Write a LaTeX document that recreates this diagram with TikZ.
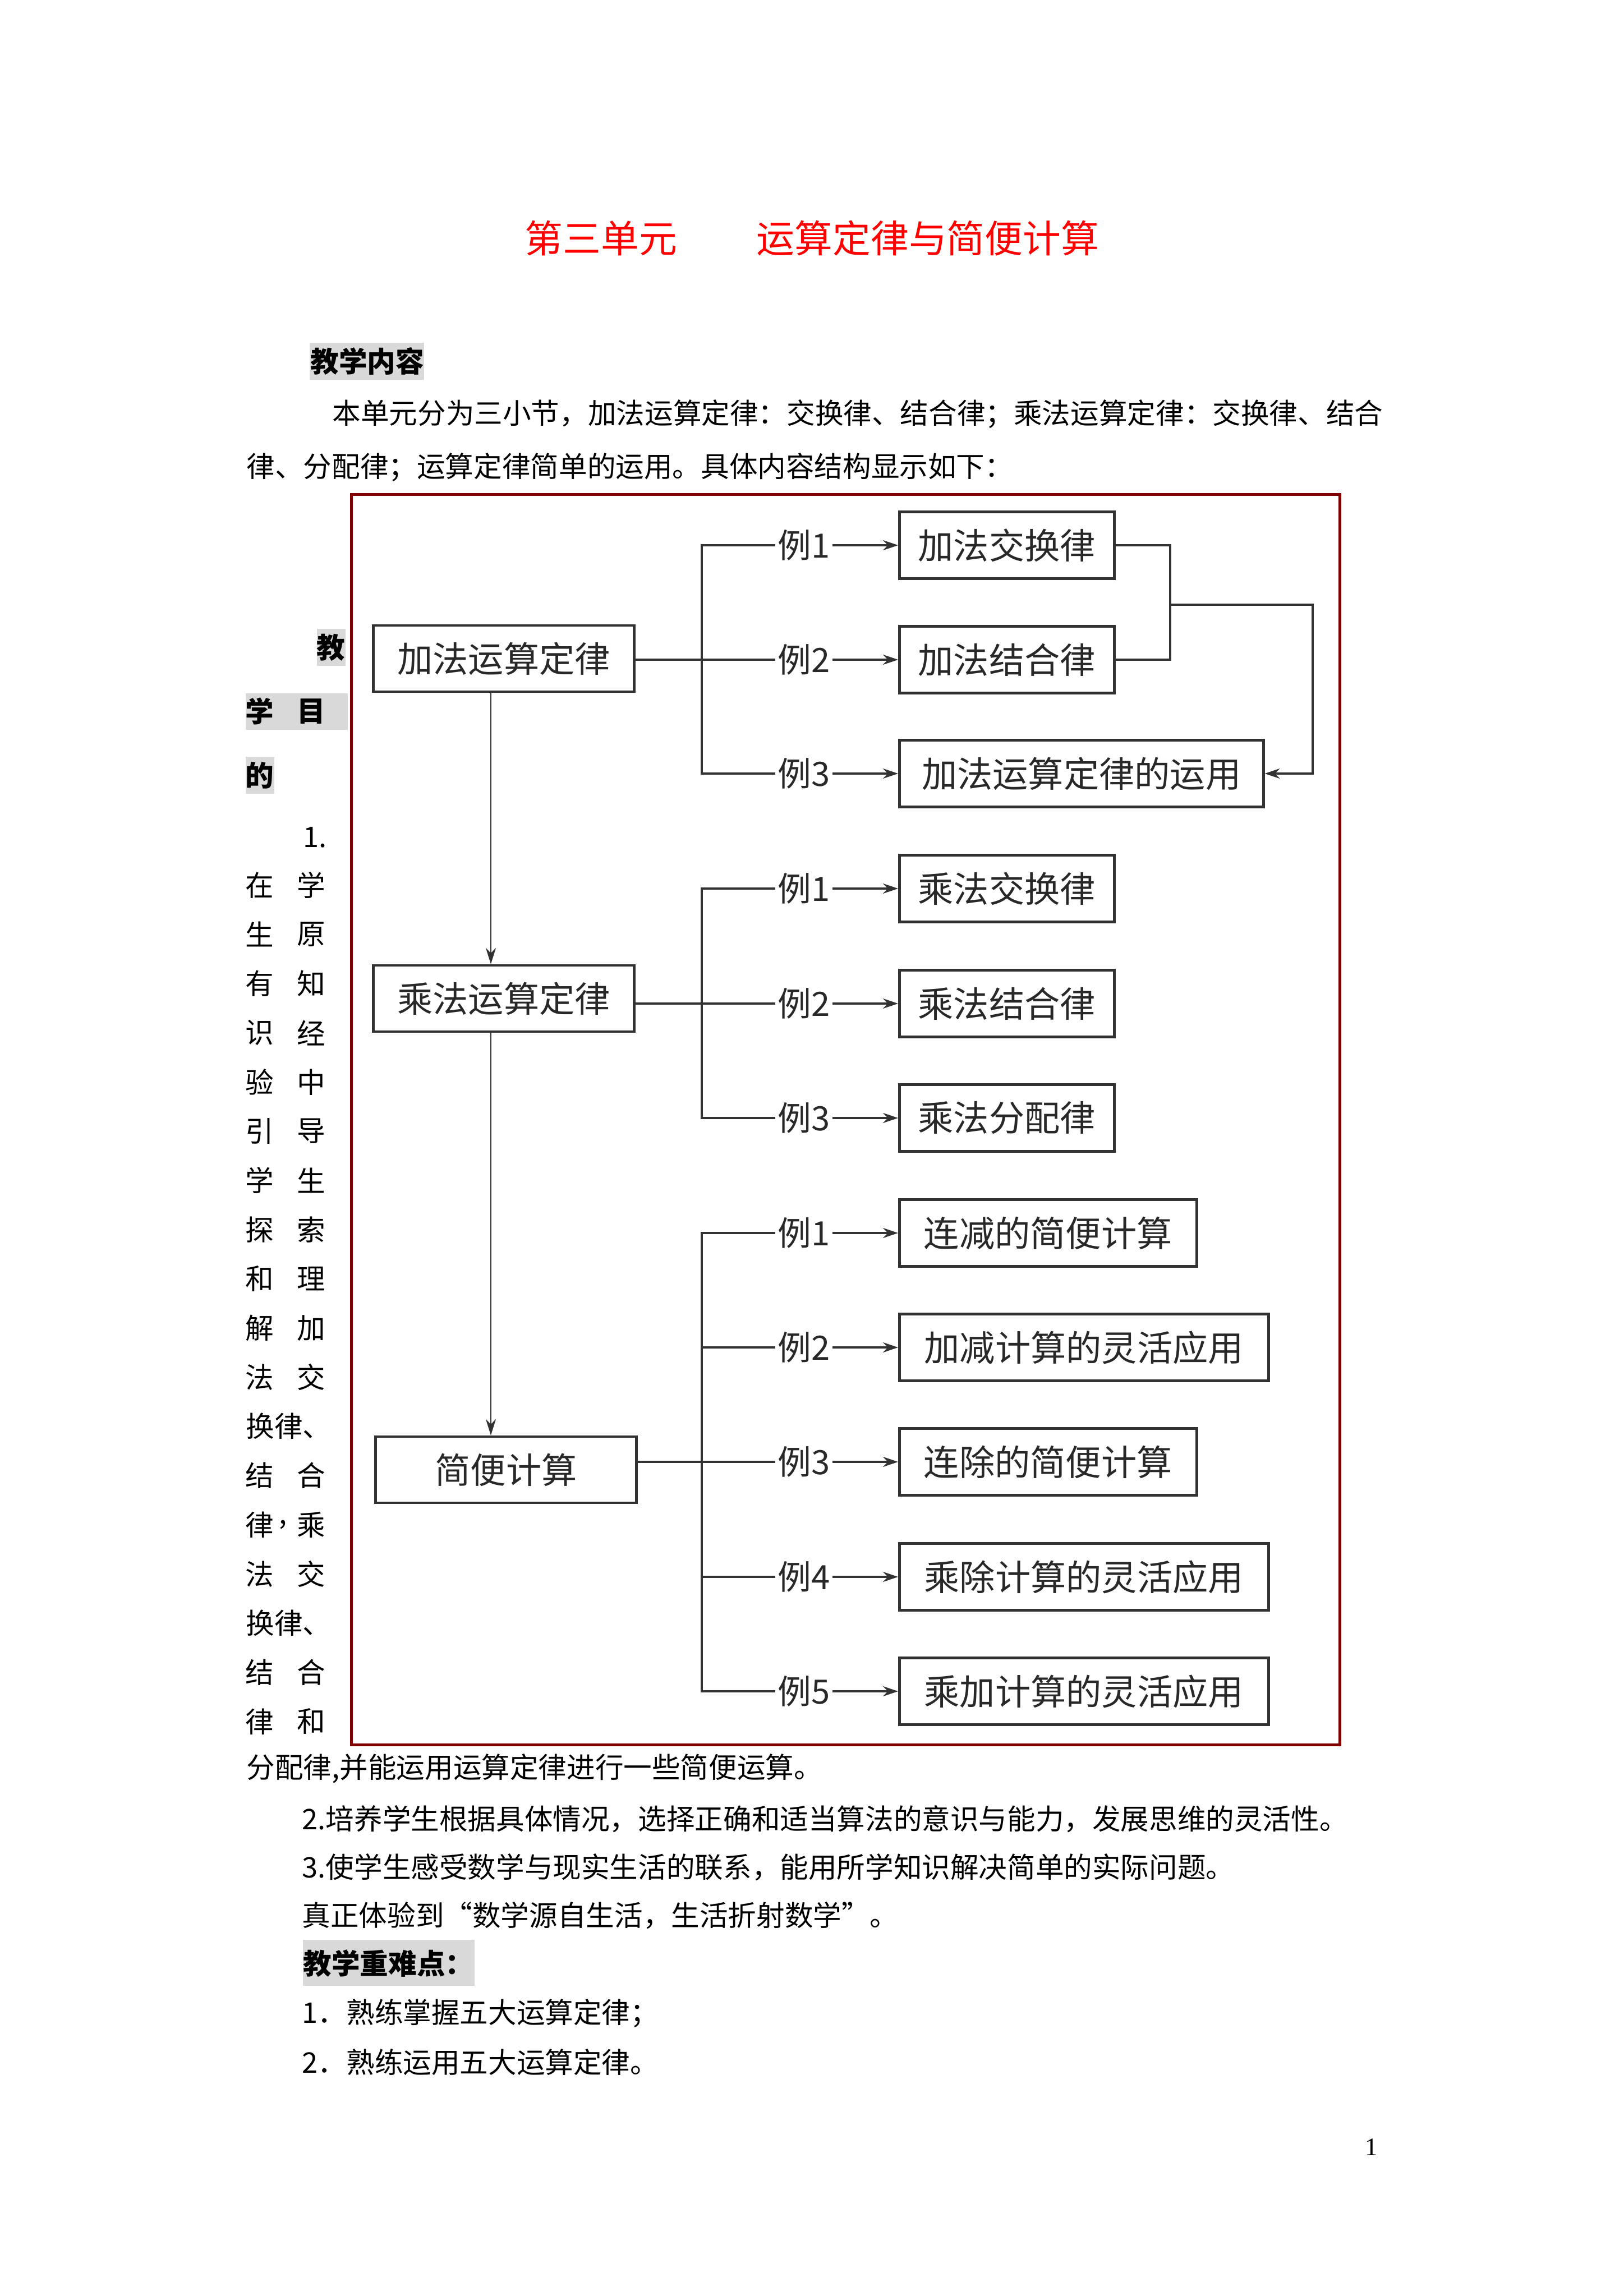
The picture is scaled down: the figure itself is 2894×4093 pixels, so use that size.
\documentclass[tikz,border=0pt]{standalone}
\usepackage{fontspec}
\setmainfont{Noto Sans CJK SC}
\newfontfamily\pagenumfont{Liberation Serif}
\usetikzlibrary{arrows.meta}
\definecolor{titlered}{RGB}{255,0,0}
\definecolor{graybg}{RGB}{217,217,217}
\definecolor{framered}{RGB}{128,0,0}
\definecolor{boxc}{RGB}{50,50,50}
\definecolor{linec}{RGB}{50,50,50}
\definecolor{boxtext}{RGB}{40,40,40}
\newcommand\bodyfs{\fontsize{14.4pt}{17pt}\selectfont}
\newcommand\titlefs{\fontsize{19.3pt}{23pt}\selectfont}
\newcommand\boxfs{\fontsize{18pt}{21pt}\selectfont}
\newcommand\labfs{\fontsize{17pt}{20pt}\selectfont}
\tikzset{
  txt/.style={inner sep=0pt, font=\bodyfs, anchor=west},
  btxt/.style={inner sep=0pt, font=\bodyfs\bfseries, anchor=west},
  cj/.style={inner sep=0pt, font=\bodyfs},
  bcj/.style={inner sep=0pt, font=\bodyfs\bfseries},
  ttl/.style={inner sep=0pt, font=\titlefs, text=titlered, anchor=west},
  mainbox/.style={draw=boxc, line width=0.45mm, minimum width=46.5mm, minimum height=11.8mm, inner sep=0pt, font=\boxfs, text=boxtext},
  rbox/.style={draw=boxc, line width=0.45mm, minimum height=11.9mm, inner sep=0pt, font=\boxfs, text=boxtext, anchor=west},
  lab/.style={inner xsep=0.4mm, inner ysep=0pt, font=\labfs, text=boxtext},
  conn/.style={draw=linec, line width=0.32mm},
  arr/.style={conn, -{Stealth[length=2.7mm,width=1.8mm]}},
  varr/.style={draw=linec, line width=0.24mm, -{Stealth[length=2.9mm,width=1.8mm]}},
  shade/.style={fill=graybg, draw=none},
}
\begin{document}
\begin{tikzpicture}[x=0.1mm,y=-0.1mm]
\useasboundingbox (0,0) rectangle (2894,4093);
\fill[white] (0,0) rectangle (2894,4093);

% title
\node[ttl] (t1) at (935,425) {第三单元};
\node[ttl] (t2) at (1348,425) {运算定律与简便计算};

% teaching content
\fill[shade] (552,611) rectangle (756,677);
\node[btxt] (h1) at (553,644) {教学内容};
\node[txt] (p1) at (592,738) {本单元分为三小节，加法运算定律：交换律、结合律；乘法运算定律：交换律、结合};
\node[txt] (p2) at (439,833) {律、分配律；运算定律简单的运用。具体内容结构显示如下：};

% frame
\draw[framered, line width=0.5mm] (626,881) rectangle (2388,3110);

% left narrow column
\fill[shade] (565,1121) rectangle (616,1187);
\fill[shade] (438,1236) rectangle (620,1301);
\fill[shade] (438,1349) rectangle (489,1415);
\node[bcj] (g1) at (590,1154) {教};
\node[bcj] (g2) at (463,1268) {学};
\node[bcj] (g3) at (555,1268) {目};
\node[bcj] (g4) at (463,1382) {的};
\node[txt] (n1) at (540,1493) {1.};
\foreach \k/\l/\r in {0/在/学,1/生/原,2/有/知,3/识/经,4/验/中,5/引/导,6/学/生,7/探/索,8/和/理,9/解/加,10/法/交,12/结/合,14/法/交,16/结/合,17/律/和}{
  \node[cj] (lc\k) at (463,1578+\k*87.7) {\l};
  \node[cj] (rc\k) at (555,1578+\k*87.7) {\r};
}
\node[txt] (r11) at (438,1578+11*87.7) {换律、};
\node[txt] (r15) at (438,1578+15*87.7) {换律、};
\node[cj] (lc13) at (463,1578+13*87.7) {律};
\node[txt] (cm13) at (497,1578+13*87.7) {,};
\node[cj] (rc13) at (555,1578+13*87.7) {乘};
\node[txt] (p3) at (439,3153) {分配律,并能运用运算定律进行一些简便运算。};
\node[txt] (p4) at (538,3243) {2.培养学生根据具体情况，选择正确和适当算法的意识与能力，发展思维的灵活性。};
\node[txt] (p5) at (538,3329) {3.使学生感受数学与现实生活的联系，能用所学知识解决简单的实际问题。};
\node[txt] (p6) at (538,3415) {真正体验到“数学源自生活，生活折射数学”。};
\fill[shade] (540,3458) rectangle (846,3540);
\node[btxt] (h2) at (540,3500) {教学重难点：};
\node[txt] (p7) at (538,3589) {1．熟练掌握五大运算定律；};
\node[txt] (p8) at (538,3676) {2．熟练运用五大运算定律。};
\node[inner sep=0pt, font=\pagenumfont\fontsize{12.8pt}{15pt}\selectfont] (pg) at (2445,3828) {1};

% main boxes
\node[mainbox] (A) at (898,1174) {加法运算定律};
\node[mainbox] (M) at (898,1780) {乘法运算定律};
\node[mainbox] (J) at (902,2620) {简便计算};

% right boxes
\node[rbox, minimum width=38.3mm] (a1) at (1601,972) {加法交换律};
\node[rbox, minimum width=38.3mm] (a2) at (1601,1176) {加法结合律};
\node[rbox, minimum width=64.9mm] (a3) at (1601,1379) {加法运算定律的运用};
\node[rbox, minimum width=38.3mm] (m1) at (1601,1584) {乘法交换律};
\node[rbox, minimum width=38.3mm] (m2) at (1601,1789) {乘法结合律};
\node[rbox, minimum width=38.3mm] (m3) at (1601,1993) {乘法分配律};
\node[rbox, minimum width=53mm] (j1) at (1601,2198) {连减的简便计算};
\node[rbox, minimum width=65.8mm] (j2) at (1601,2402) {加减计算的灵活应用};
\node[rbox, minimum width=53mm] (j3) at (1601,2606) {连除的简便计算};
\node[rbox, minimum width=65.8mm] (j4) at (1601,2811) {乘除计算的灵活应用};
\node[rbox, minimum width=65.8mm] (j5) at (1601,3015) {乘加计算的灵活应用};

% labels
\foreach \n/\t/\yy in {la1/例1/972, la2/例2/1176, la3/例3/1379,
                      lm1/例1/1584, lm2/例2/1789, lm3/例3/1993,
                      lj1/例1/2198, lj2/例2/2402, lj3/例3/2606, lj4/例4/2811, lj5/例5/3015}{
  \node[lab] (\n) at (1433,\yy) {\t};
}

% branch coordinates
\coordinate (ba) at (1251,1176);
\coordinate (bm) at (1251,1789);
\coordinate (bj) at (1251,2606);
\coordinate (ra) at (2086,1078);
\coordinate (rb) at (2340,1078);
\coordinate (vx) at (875,0);

% addition group
\draw[conn] (la1.west) -| (ba) |- (la3.west);
\draw[conn, line width=0.4mm] (la2.west -| A.east) -- (la2.west);
\foreach \i in {1,2,3}{ \draw[arr] (la\i.east) -- (la\i.east -| a\i.west); }
\draw[conn] (a1.east) -| (ra) |- (a2.east);
\draw[arr] (ra) -- (rb) |- (a3.east);

% multiplication group
\draw[conn] (lm1.west) -| (bm) |- (lm3.west);
\draw[conn, line width=0.4mm] (lm2.west -| M.east) -- (lm2.west);
\foreach \i in {1,2,3}{ \draw[arr] (lm\i.east) -- (lm\i.east -| m\i.west); }

% simplification group
\draw[conn] (lj1.west) -| (bj) |- (lj5.west);
\draw[conn] (lj2.west -| bj) -- (lj2.west);
\draw[conn] (lj4.west -| bj) -- (lj4.west);
\draw[conn] (lj3.west -| J.east) -- (lj3.west);
\foreach \i in {1,2,3,4,5}{ \draw[arr] (lj\i.east) -- (lj\i.east -| j\i.west); }

% vertical arrows
\draw[varr] (A.south -| vx) -- (M.north -| vx);
\draw[varr] (M.south -| vx) -- (J.north -| vx);
\end{tikzpicture}
\end{document}
